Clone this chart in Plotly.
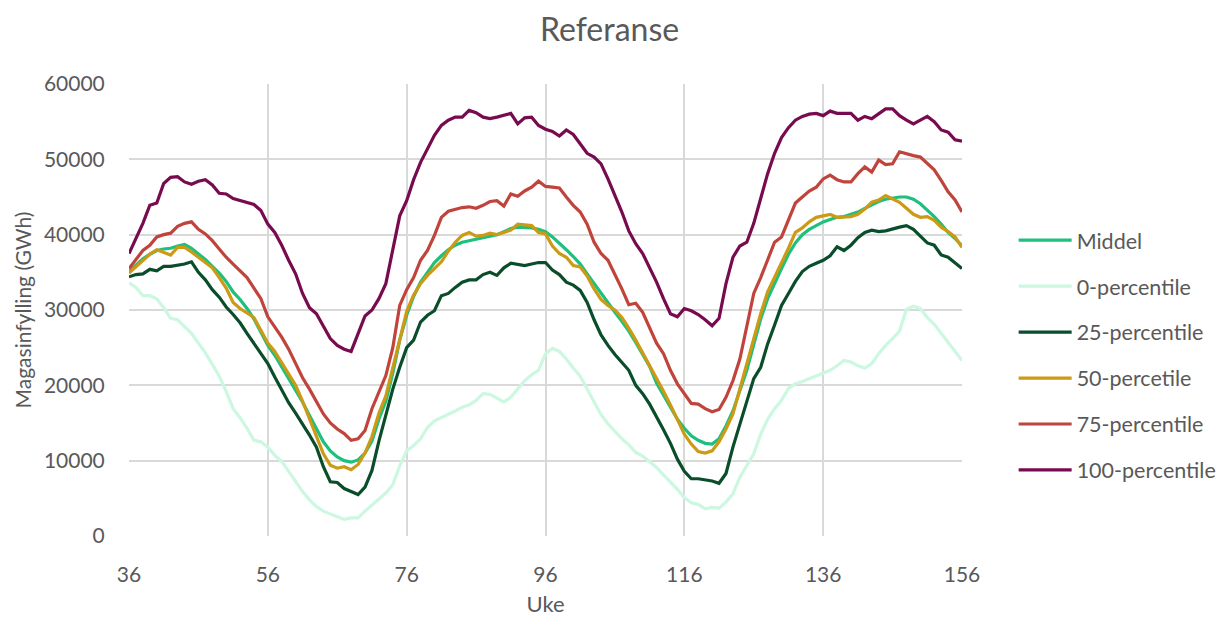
import plotly.graph_objects as go

weeks = list(range(36, 157))

middel = [35100, 35900, 36800, 37400, 37900, 38100, 38200, 38500, 38700, 38200,
          37500, 36700, 35800, 34900, 33800, 32400, 31400, 30200, 28800, 27100,
          25300, 24000, 22500, 21000, 19500, 17800, 16000, 14200, 12500, 11300,
          10500, 10000, 9800, 10100, 11000, 12600, 15500, 17900, 21600, 26000,
          29300, 31800, 33700, 35000, 36300, 37200, 38000, 38600, 39000, 39200,
          39400, 39500, 39700, 40000, 40400, 40800, 41000, 41000, 40900, 40700,
          40400, 39700, 38900, 38000, 37100, 36100, 34800, 33500, 32200, 30900,
          29700, 28500, 27200, 25700, 24100, 22500, 20300, 18600, 17100, 15500,
          14300, 13300, 12700, 12300, 12200, 12900, 14600, 16600, 19300, 22000,
          25400, 28800, 31500, 33600, 35500, 37400, 38900, 40000, 40700, 41200,
          41700, 42000, 42300, 42400, 42700, 43000, 43500, 44000, 44400, 44700,
          44900, 45000, 45000, 44700, 44100, 43300, 42400, 41400, 40300, 39500,
          38500]

p0 = [33600, 33000, 31900, 31900, 31500, 30300, 28900, 28700, 27800, 26900,
      25600, 24300, 22800, 21200, 19200, 16900, 15700, 14300, 12700, 12500,
      11800, 10700, 9900, 8600, 7300, 5900, 4800, 3900, 3300, 2900,
      2600, 2200, 2400, 2400, 3300, 4100, 5000, 5700, 6800, 9300,
      11300, 12000, 12900, 14400, 15300, 15700, 16100, 16600, 17100, 17400,
      18000, 18900, 18800, 18300, 17800, 18400, 19500, 20600, 21400, 22000,
      24200, 24900, 24500, 23500, 22300, 21200, 19500, 17800, 16100, 14900,
      13900, 12900, 12100, 11100, 10600, 9800, 9100, 8100, 7200, 6200,
      5100, 4400, 4200, 3600, 3800, 3700, 4500, 5600, 7800, 9300,
      10900, 13500, 15500, 16900, 18000, 19600, 20200, 20500, 20900, 21300,
      21700, 22000, 22600, 23300, 23100, 22600, 22300, 22900, 24200, 25300,
      26200, 27200, 30100, 30500, 30200, 29000, 28100, 26900, 25800, 24600,
      23300]

p25 = [34400, 34700, 34800, 35400, 35200, 35800, 35800, 35900, 36100, 36400,
       35000, 34000, 32700, 31700, 30400, 29400, 28300, 26900, 25600, 24200,
       22900, 21100, 19400, 17700, 16300, 14900, 13400, 11800, 9200, 7200,
       7100, 6300, 5900, 5500, 6500, 8700, 12600, 16000, 19500, 22400,
       25000, 26000, 28400, 29300, 29900, 31900, 32200, 33000, 33700, 34000,
       34000, 34700, 35000, 34600, 35600, 36200, 36100, 35900, 36100, 36300,
       36300, 35300, 34700, 33700, 33300, 32600, 31000, 28700, 26700, 25300,
       24100, 23000, 22000, 20000, 18900, 17500, 15900, 14100, 12300, 10200,
       8600, 7600, 7600, 7500, 7300, 7000, 8300, 11800, 14900, 18000,
       20900, 22400, 25500, 28000, 30600, 32200, 33800, 35100, 35800, 36200,
       36600, 37200, 38400, 37900, 38600, 39600, 40300, 40600, 40400, 40500,
       40800, 41000, 41200, 40700, 39800, 38900, 38600, 37300, 37000, 36300,
       35500]

p50 = [34900, 35700, 36600, 37400, 38000, 37700, 37300, 38300, 38300, 37700,
       37000, 36300, 35600, 34300, 32900, 31000, 30200, 29600, 29000, 27300,
       25600, 24500, 23000, 21400, 20000, 17900, 15500, 13100, 10900, 9400,
       9000, 9200, 8800, 9500, 11000, 13200, 16300, 18600, 22300, 26000,
       29800, 32000, 33500, 34600, 35500, 36400, 37800, 39000, 39900, 40300,
       39800, 39900, 40200, 40000, 40300, 40600, 41400, 41300, 41200, 40300,
       40100, 38500, 37500, 37000, 35900, 35700, 34500, 32800, 31400, 30600,
       30000, 29000, 27600, 26000, 24300, 22800, 21000, 19200, 17400, 15400,
       13500, 12200, 11200, 11000, 11300, 12500, 14200, 16200, 19500, 23000,
       26000, 29500, 32400, 34300, 36200, 38200, 40300, 40900, 41700, 42300,
       42500, 42700, 42300, 42300, 42400, 42700, 43400, 44300, 44600, 45200,
       44800, 44300, 43500, 42700, 42300, 42400, 41900, 41000, 40400, 39700,
       38300]

p75 = [35500, 36700, 37900, 38600, 39700, 40000, 40200, 41100, 41500, 41700,
       40700, 40100, 39200, 38100, 37000, 36100, 35200, 34300, 32900, 31500,
       29100, 27700, 26400, 24800, 22800, 21000, 19500, 17800, 16200, 15000,
       14200, 13600, 12700, 12900, 14000, 16900, 19100, 21300, 25000, 30600,
       32700, 34300, 36600, 37900, 39900, 42300, 43100, 43400, 43600, 43700,
       43500, 43900, 44400, 44500, 43800, 45400, 45100, 45800, 46300, 47100,
       46400, 46300, 46200, 45000, 43900, 43000, 41400, 39000, 37500, 36600,
       34800, 32800, 30700, 30900, 29700, 27600, 25600, 24200, 22000, 20200,
       18900, 17600, 17500, 16900, 16500, 16800, 18400, 20600, 23500, 28000,
       32200, 34300, 36800, 39000, 39700, 41900, 44200, 45000, 45800, 46300,
       47400, 47900, 47300, 47000, 47000, 48100, 49000, 48300, 49900, 49300,
       49400, 51000, 50700, 50500, 50300, 49500, 48600, 47200, 45700, 44600,
       43000]

p100 = [37500, 39500, 41500, 43900, 44200, 46800, 47600, 47700, 47000, 46700,
        47100, 47300, 46600, 45500, 45400, 44800, 44500, 44300, 44000, 43200,
        41400, 40300, 38600, 36600, 34800, 32200, 30300, 29500, 27800, 26200,
        25300, 24800, 24500, 26900, 29200, 30000, 31500, 33500, 37800, 42500,
        44500, 47300, 49600, 51400, 53200, 54500, 55200, 55600, 55600, 56500,
        56200, 55600, 55400, 55600, 55800, 56100, 54700, 55500, 55600, 54500,
        54000, 53700, 53100, 53900, 53300, 52100, 50800, 50300, 49400, 47400,
        45200, 43000, 40500, 38800, 37500, 35700, 33700, 31500, 29500, 29100,
        30200, 29900, 29400, 28700, 27900, 28900, 33500, 37000, 38500, 39000,
        41500, 44800, 48100, 50800, 52900, 54200, 55200, 55700, 56000, 56100,
        55800, 56400, 56100, 56100, 56100, 55200, 55700, 55400, 56100, 56700,
        56700, 55800, 55200, 54700, 55200, 55700, 55000, 53900, 53600, 52600,
        52400]

series_names = ["Middel", "0-percentile", "25-percentile", "50-percetile",
                "75-percentile", "100-percentile"]
series_values = [middel, p0, p25, p50, p75, p100]
colors = ["#1FBF7E", "#CCF7E0", "#0A4D2A", "#CC9A14", "#C0443B", "#780A4E"]

x_ticks = [36, 56, 76, 96, 116, 136, 156]
y_ticks = [0, 10000, 20000, 30000, 40000, 50000, 60000]

fig = go.Figure()
for i, (name, vals, col) in enumerate(zip(series_names, series_values, colors)):
    fig.add_trace(go.Scatter(
        x=weeks, y=vals, mode="lines", name=name,
        line=dict(color=col, width=3.2),
        legendgroup=name, legendrank=i + 1,
    ))

font_family = "Lato, 'Open Sans', sans-serif"
grey = "#595959"

fig.update_layout(
    width=1224, height=617,
    paper_bgcolor="white", plot_bgcolor="white",
    margin=dict(l=129, r=262, t=84, b=81, autoexpand=False),
    title=dict(text="Referanse", x=0.498, xanchor="center", y=0.951, yanchor="middle",
               font=dict(family=font_family, size=32, color=grey)),
    font=dict(family=font_family, color=grey),
    showlegend=True,
    legend=dict(x=1.062, xanchor="left", y=0.40, yanchor="middle",
                font=dict(size=21.5, color=grey), itemwidth=53,
                tracegroupgap=15, bgcolor="rgba(0,0,0,0)"),
    xaxis=dict(range=[36, 156], tickvals=x_ticks, showgrid=True,
               gridcolor="#D9D9D9", gridwidth=1.5, zeroline=False,
               showline=False, ticks="outside", ticklen=20, automargin=False,
               tickcolor="rgba(0,0,0,0)", tickfont=dict(size=21, color=grey),
               title=dict(text="Uke", font=dict(size=22, color=grey), standoff=12)),
    yaxis=dict(range=[0, 60000], tickvals=y_ticks, showgrid=True,
               gridcolor="#D9D9D9", gridwidth=1.5, zeroline=False,
               showline=False, ticks="outside", ticklen=19, automargin=False,
               tickcolor="rgba(0,0,0,0)", tickformat="d",
               tickfont=dict(size=21, color=grey),
               title=dict(text="Magasinfylling (GWh)", font=dict(size=21, color=grey),
                          standoff=6)),
)

fig.write_html("out.html")
